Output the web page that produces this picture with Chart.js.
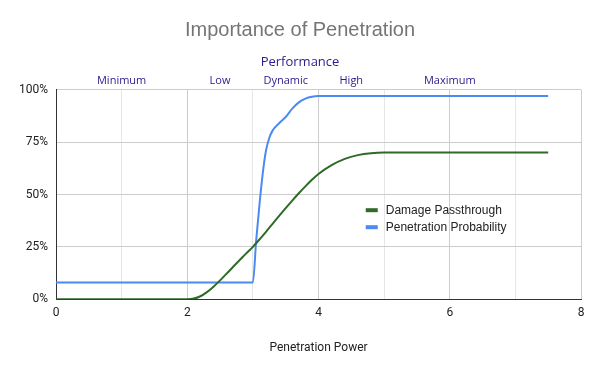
<!DOCTYPE html>
<html>
<head>
<meta charset="utf-8">
<script src="https://cdn.jsdelivr.net/npm/chart.js@4.4.1/dist/chart.umd.min.js"></script>
<style>
  html, body { margin: 0; padding: 0; background: #fff; }
</style>
</head>
<body>
<canvas id="chart" width="600" height="371"></canvas>
<script>
// Damage Passthrough (%) vs Penetration Power
const damagePower = [0, 2.0, 2.1, 2.2, 2.3, 2.4, 2.5, 2.6, 2.7, 2.8, 2.9, 3.0, 3.1, 3.2, 3.3, 3.4, 3.5, 3.6, 3.7, 3.8, 3.9, 4.0, 4.2, 4.4, 4.6, 4.8, 5.0, 7.5];
const damagePct   = [0, 0,   0.3, 1.4, 3.4, 6,   9,   12.2, 15.5, 18.7, 21.9, 25, 28.5, 32.2, 36, 39.8, 43.5, 47.1, 50.6, 53.9, 57, 59.8, 64, 67, 68.8, 69.7, 70, 70];

// Penetration Probability (%) vs Penetration Power
const probPower = [0, 3.0, 3.05, 3.1, 3.15, 3.2, 3.25, 3.3, 3.4, 3.5, 3.6, 3.7, 3.8, 3.9, 4.0, 7.5];
const probPct   = [8, 8,   28,   45,  60,   71,  77,   80.5, 84, 87, 91,  94,  95.8, 96.7, 97, 97];

// top "Performance" band labels
const perfLabels = ['Minimum', 'Low', 'Dynamic', 'High', 'Maximum'];
const perfPositions = [1, 2.5, 3.5, 4.5, 6];

const yTicks = [0, 25, 50, 75, 100];

const toPoints = (xs, ys) => xs.map((x, i) => ({ x, y: ys[i] }));

// legend drawn inside the plot, like the original
const insideLegend = {
  id: 'insideLegend',
  afterDatasetsDraw(chart) {
    const { ctx, scales } = chart;
    const x0 = scales.x.getPixelForValue(4.72);
    const y0 = scales.y.getPixelForValue(42.5);
    ctx.save();
    ctx.font = '12px "Liberation Sans", Arial, sans-serif';
    ctx.textBaseline = 'middle';
    chart.data.datasets.forEach((ds, i) => {
      const y = y0 + i * 17;
      ctx.fillStyle = ds.borderColor;
      ctx.fillRect(x0, y - 2, 12, 4);
      ctx.fillStyle = '#222';
      ctx.fillText(ds.label, x0 + 20, y);
    });
    ctx.restore();
  },
};

new Chart(document.getElementById('chart'), {
  type: 'line',
  data: {
    datasets: [
      {
        label: 'Damage Passthrough',
        data: toPoints(damagePower, damagePct),
        borderColor: '#2f6b28',
        borderWidth: 2,
        pointRadius: 0,
        cubicInterpolationMode: 'monotone',
      },
      {
        label: 'Penetration Probability',
        data: toPoints(probPower, probPct),
        borderColor: '#4a8af4',
        borderWidth: 2,
        pointRadius: 0,
        cubicInterpolationMode: 'monotone',
      },
    ],
  },
  options: {
    responsive: false,
    animation: false,
    layout: { padding: { left: 19, right: 19, top: 0, bottom: 12 } },
    plugins: {
      legend: { display: false },
      tooltip: { enabled: false },
      title: {
        display: true,
        text: 'Importance of Penetration',
        color: '#757575',
        font: { family: '"Liberation Sans", Arial, sans-serif', size: 20, weight: 'normal' },
        padding: { top: 18, bottom: 8 },
      },
      subtitle: {
        display: true,
        text: 'Performance',
        color: '#2a1a8a',
        font: { family: '"Open Sans", sans-serif', size: 13 },
        padding: { top: 4, bottom: 3 },
      },
    },
    scales: {
      x: {
        type: 'linear',
        min: 0,
        max: 8,
        ticks: {
          stepSize: 1,
          color: '#222',
          padding: 7,
          font: { family: 'Roboto, Arial, sans-serif', size: 12 },
          callback: (v) => (v % 2 === 0 ? v : ''),
        },
        grid: {
          drawTicks: false,
          color: (ctx) => (ctx.tick && ctx.tick.value % 2 === 0 ? '#cccccc' : '#e6e6e6'),
        },
        border: { color: '#333', width: 1 },
        title: {
          display: true,
          text: 'Penetration Power',
          color: '#222',
          font: { family: 'Roboto, Arial, sans-serif', size: 12 },
          padding: { top: 13 },
        },
      },
      x2: {
        type: 'linear',
        position: 'top',
        min: 0,
        max: 8,
        afterBuildTicks: (axis) => { axis.ticks = perfPositions.map((v) => ({ value: v })); },
        ticks: {
          color: '#2a1a8a',
          padding: 2,
          autoSkip: false,
          maxRotation: 0,
          font: { family: '"Open Sans", sans-serif', size: 11 },
          callback: (v, i) => perfLabels[i],
        },
        grid: { display: false, drawTicks: false },
        border: { display: false },
      },
      y: {
        min: 0,
        max: 100,
        afterBuildTicks: (axis) => { axis.ticks = yTicks.map((v) => ({ value: v })); },
        afterFit: (axis) => { axis.width = 37; },
        ticks: {
          color: '#222',
          padding: 8,
          font: { family: 'Roboto, Arial, sans-serif', size: 12 },
          callback: (v) => v + '%',
        },
        grid: { drawTicks: false, color: '#cccccc' },
        border: { color: '#333', width: 1 },
      },
    },
  },
  plugins: [insideLegend],
});
</script>
</body>
</html>
